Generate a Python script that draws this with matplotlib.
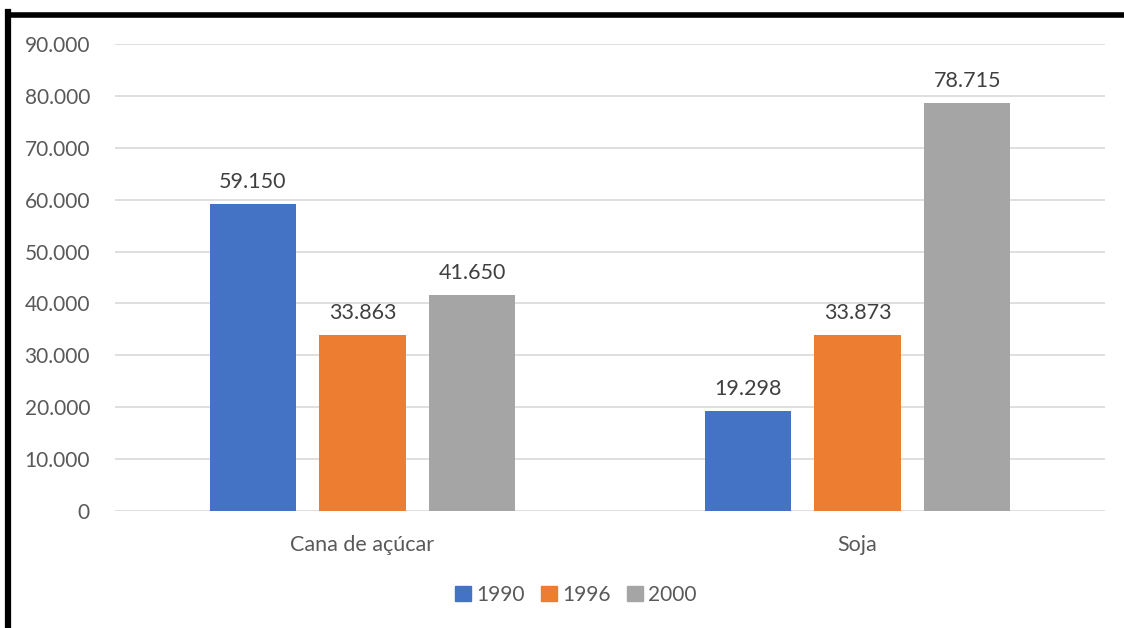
import matplotlib
matplotlib.use("Agg")
import matplotlib.pyplot as plt
from matplotlib.lines import Line2D
from matplotlib.patches import Patch
import numpy as np

categories = ["Cana de açúcar", "Soja"]
years = ["1990", "1996", "2000"]
v1990 = [59150, 19298]
v1996 = [33863, 33873]
v2000 = [41650, 78715]
yticks = [0, 10000, 20000, 30000, 40000, 50000, 60000, 70000, 80000, 90000]

colors = ["#4472C4", "#ED7D31", "#A5A5A5"]
txt = "#595959"
plt.rcParams['font.family'] = ['Lato', 'DejaVu Sans']

fig = plt.figure(figsize=(11.24, 6.28), dpi=100)
ax = fig.add_axes([115/1124, 1-511/628, 990/1124, 467/628])

x = np.arange(len(categories)) + 0.5
w = 0.174
step = 0.222
series = [v1990, v1996, v2000]
for i, vals in enumerate(series):
    pos = x + (i - 1) * step
    ax.bar(pos, vals, width=w, color=colors[i], zorder=3, label=years[i])
    for p, v in zip(pos, vals):
        ax.text(p, v + 2300, f"{v:,}".replace(",", "."), ha="center", va="bottom",
                fontsize=15.5, color="#404040")

ax.set_xlim(0, 2)
ax.set_ylim(0, 90000)
ax.set_yticks(yticks)
ax.set_yticklabels([f"{t:,}".replace(",", ".") for t in yticks], fontsize=15, color=txt)
ax.set_xticks(x)
ax.set_xticklabels(categories, fontsize=15.5, color=txt)
ax.tick_params(axis="both", length=0)
ax.tick_params(axis="y", pad=18)
ax.tick_params(axis="x", pad=17)
ax.grid(axis="y", color="#D9D9D9", linewidth=1.2, zorder=0)
for s in ax.spines.values():
    s.set_visible(False)

handles = [Patch(color=c, label=y) for c, y in zip(colors, years)]
leg = fig.legend(handles=handles, loc="center", bbox_to_anchor=(576/1124, 1-595/628),
                 ncol=3, frameon=False, fontsize=15, handlelength=0.75, handleheight=0.75,
                 handletextpad=0.25, columnspacing=0.8)
for t in leg.get_texts():
    t.set_color(txt)

# outer border (left and top)
fig.add_artist(Line2D([8/1124, 8/1124], [0, 1-12/628], transform=fig.transFigure,
                      color="black", linewidth=4.5, solid_capstyle="projecting"))
fig.add_artist(Line2D([8/1124, 1.0], [1-14.5/628, 1-14.5/628], transform=fig.transFigure,
                      color="black", linewidth=4.0))

fig.savefig("out.png", dpi=100)
